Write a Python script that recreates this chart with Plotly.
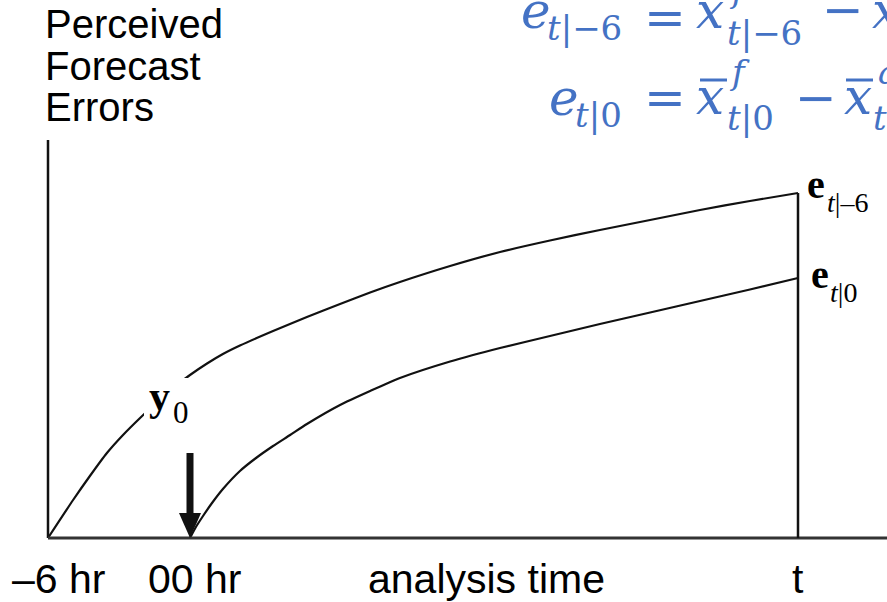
import plotly.graph_objects as go

W, H = 887, 602

# ---------------- data (schematic) ----------------
# time in hours relative to analysis time 00 hr; errors in arbitrary units
hours_prior = [-6.00, -4.94, -4.23, -3.51, -2.83, -2.11, -1.39, -0.72, 0.00, 0.72,
               1.39, 2.11, 3.51, 4.94, 6.34, 7.61, 8.87, 10.99, 13.10, 15.21,
               17.32, 19.44, 21.55, 23.66, 25.69]
err_prior = [0.00, 0.38, 0.62, 0.85, 1.03, 1.20, 1.36, 1.50, 1.63, 1.745,
             1.84, 1.925, 2.07, 2.21, 2.34, 2.455, 2.56, 2.72, 2.86, 2.975,
             3.08, 3.18, 3.28, 3.37, 3.45]

hours_now = [0.00, 0.25, 0.55, 0.93, 1.39, 2.11, 2.79, 3.51, 4.23, 4.94,
             6.34, 7.61, 8.87, 10.99, 13.10, 15.21, 17.32, 19.44, 21.55, 23.66, 25.69]
err_now = [0.00, 0.11, 0.22, 0.35, 0.49, 0.67, 0.80, 0.92, 1.03, 1.14,
           1.33, 1.47, 1.60, 1.765, 1.90, 2.02, 2.14, 2.255, 2.37, 2.485, 2.60]

t_end = hours_prior[-1]
y_axis_top = 3.98
arrow_top = 0.85
tick_labels = ["–6 hr", "00 hr", "analysis time", "t"]
title_lines = ["Perceived", "Forecast", "Errors"]

# ---------------- scales ----------------
PX_PER_HR = 142 / 6
PX_PER_UNIT = 100
X_MIN = -6 - 48 / PX_PER_HR
X_MAX = X_MIN + W / PX_PER_HR
Y_MIN = -(H - 538) / PX_PER_UNIT
Y_MAX = Y_MIN + H / PX_PER_UNIT

fig = go.Figure()
for xs, ys in [(hours_prior, err_prior), (hours_now, err_now)]:
    fig.add_trace(go.Scatter(x=xs, y=ys, mode="lines",
                             line=dict(color="#111", width=2.2, shape="spline", smoothing=0.6),
                             hoverinfo="skip"))

# axes lines
fig.add_shape(type="line", xref="x", yref="y", x0=-6, x1=-6, y0=0, y1=y_axis_top,
              line=dict(color="#111", width=2.5))
fig.add_shape(type="line", xref="x", yref="y", x0=-6, x1=X_MAX, y0=0, y1=0,
              line=dict(color="#333", width=3))
fig.add_shape(type="line", xref="x", yref="y", x0=t_end, x1=t_end, y0=0, y1=err_prior[-1],
              line=dict(color="#111", width=2.5))

# arrow at 00 hr
head_len = 25 / PX_PER_UNIT
head_half = 11 / PX_PER_HR
fig.add_shape(type="line", xref="x", yref="y", x0=0, x1=0, y0=arrow_top, y1=head_len * 0.9,
              line=dict(color="#111", width=7))
fig.add_shape(type="path", xref="x", yref="y",
              path=f"M {-head_half},{head_len} L {head_half},{head_len} L 0,0 Z",
              fillcolor="#111", line=dict(color="#111", width=0))

# white box behind y0 label
fig.add_shape(type="rect", xref="paper", yref="paper",
              x0=144 / W, x1=189 / W, y0=1 - 426 / H, y1=1 - 378 / H,
              fillcolor="white", line=dict(width=0), layer="above")

ASC = {"sans": 0.3465, "serif": 0.3375, "dv": 0.346}


def label(text, px, baseline, size, family, kind, color="black", xanchor="left"):
    center = baseline - ASC[kind] * size
    fig.add_annotation(xref="paper", yref="paper", x=px / W, y=1 - center / H,
                       xanchor=xanchor, yanchor="middle", text=text, showarrow=False,
                       borderpad=0, font=dict(size=size, family=family, color=color))


def bar(px0, px1, py, color):
    fig.add_shape(type="line", xref="paper", yref="paper", x0=px0 / W, x1=px1 / W,
                  y0=1 - py / H, y1=1 - py / H, line=dict(color=color, width=3))


SANS = "Liberation Sans, Arial, sans-serif"
SERIF = "Liberation Serif, Times New Roman, serif"
DV = "DejaVu Serif, serif"
BLUE = "#4472C4"

# title
for line, base in zip(title_lines, [38, 80, 121]):
    label(line, 44, base, 40, SANS, "sans")

# bottom labels
for txt, cx in zip(tick_labels, [58, 194, 487, 798]):
    label(txt, cx, 593, 41, SANS, "sans", xanchor="center")

# curve labels
label("<b>e</b>", 806, 198, 40, SERIF, "serif")
label("<i>t</i>|–6", 826, 212, 28, SERIF, "serif")
label("<b>e</b>", 810, 288, 40, SERIF, "serif")
label("<i>t</i>|0", 829, 302, 28, SERIF, "serif")
label("<b>y</b>", 148, 410, 42, SERIF, "serif")
label("0", 172, 423, 31, SERIF, "serif")

# formulas (blue)
M, S = 50, 34
# line 1
label("<i>e</i>", 520, 28, M, DV, "dv", BLUE)
label("<i>t</i>|−6", 546, 40, S, DV, "dv", BLUE)
label("=", 643, 35, M, DV, "dv", BLUE)
label("<i>x</i>", 695, 28, M, DV, "dv", BLUE)
label("<i>f</i>", 728, 2, S, DV, "dv", BLUE)
label("<i>t</i>|−6", 726, 45, S, DV, "dv", BLUE)
label("−", 821, 27, M, DV, "dv", BLUE)
label("<i>x</i>", 871, 28, M, DV, "dv", BLUE)
# line 2
label("<i>e</i>", 548, 115, M, DV, "dv", BLUE)
label("<i>t</i>|0", 574, 127, S, DV, "dv", BLUE)
label("=", 643, 115, M, DV, "dv", BLUE)
label("<i>x</i>", 695, 114, M, DV, "dv", BLUE)
bar(700, 727, 80, BLUE)
label("<i>f</i>", 728, 84, S, DV, "dv", BLUE)
label("<i>t</i>|0", 726, 130, S, DV, "dv", BLUE)
label("−", 794, 115, M, DV, "dv", BLUE)
label("<i>x</i>", 843, 114, M, DV, "dv", BLUE)
bar(846, 873, 80, BLUE)
label("<i>a</i>", 877, 84, S, DV, "dv", BLUE)
label("<i>t</i>", 872, 130, S, DV, "dv", BLUE)

fig.update_layout(
    width=W, height=H, margin=dict(l=0, r=0, t=0, b=0),
    paper_bgcolor="white", plot_bgcolor="white", showlegend=False,
    xaxis=dict(range=[X_MIN, X_MAX], visible=False, fixedrange=True),
    yaxis=dict(range=[Y_MIN, Y_MAX], visible=False, fixedrange=True),
)
fig.write_html("out.html", config={"displayModeBar": False})
